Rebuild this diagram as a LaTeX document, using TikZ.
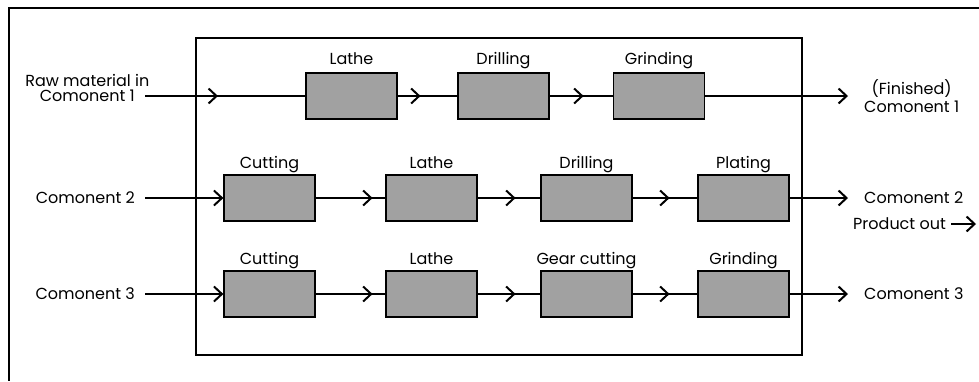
\documentclass[tikz,border=0pt]{standalone}
\usepackage{fontspec}
\setmainfont{Poppins}
\usepackage{xcolor}
\usetikzlibrary{arrows.meta}
\usetikzlibrary{decorations.markings}
\usetikzlibrary{positioning}
\definecolor{stonegray}{rgb}{0.63,0.63,0.63}
\tikzset{
  chev/.tip={Straight Barb[length=8pt,width=15pt,line width=2pt]},
  frame/.style={line width=1.8pt, black},
  machine/.style={draw=black, line width=1.2pt, fill=stonegray,
    minimum width=91pt, minimum height=46pt, inner sep=0pt},
  optitle/.style={anchor=base, font=\fontsize{16}{18}\selectfont},
  inlbl/.style={anchor=east, inner xsep=10pt, inner ysep=2pt,
    font=\fontsize{16}{18}\selectfont},
  outlbl/.style={anchor=west, inner xsep=16pt, inner ysep=2pt, align=center,
    font=\fontsize{16}{18}\selectfont},
  flow/.style={line width=1.6pt},
  flowmark/.style={decoration={markings, mark=at position #1 with {\arrow{chev}}},
    postaction={decorate}},
}

\begin{document}
\begin{tikzpicture}[x=1pt,y=-1pt]
\useasboundingbox (0,0) rectangle (979,381);

%%%%%%%%%%%%%%%%%%%%%%%%%%%%%%%%%%%%%%%%%%%%%%%%%%%%%%%%%%%%%% Frames
\draw[frame] (979,8) -- (9,8) -- (9,381);
\draw[frame] (196,38) rectangle (802,355);

%%%%%%%%%%%%%%%%%%%%%%%%%%%%%%%%%%%%%%%%%%%%%%%%%%%%%%%%%%%%%% Row 1
\node[inlbl] (in1) at (145,96) {Comonent 1};
\node[inlbl, anchor=south, inner ysep=1pt] (in1top) at (in1.north) {Raw material in};

\node[machine] (lathe1) at (351.5,96) {};
\node[machine] (drill1) at (503.5,96) {};
\node[machine] (grind1) at (659,96) {};
\node[optitle] at ([yshift=8pt]lathe1.north) {Lathe};
\node[optitle] at ([yshift=8pt]drill1.north) {Drilling};
\node[optitle] at ([yshift=8pt]grind1.north) {Grinding};

\node[outlbl] (out1) at (848,96) {(Finished)\\Comonent 1};

\draw[flow, flowmark=73pt] (in1) -- (lathe1);
\draw[flow, flowmark=23pt] (lathe1) -- (drill1);
\draw[flow, flowmark=34pt] (drill1) -- (grind1);
\draw[flow, -chev] (grind1) -- (out1);

%%%%%%%%%%%%%%%%%%%%%%%%%%%%%%%%%%%%%%%%%%%%%%%%%%%%%%%%%%%%%% Row 2
\node[inlbl] (in2) at (145,198) {Comonent 2};

\node[machine] (cut2) at (269.5,198) {};
\node[machine] (lathe2) at (431.5,198) {};
\node[machine] (drill2) at (586.5,198) {};
\node[machine] (plate2) at (743.5,198) {};
\node[optitle] at ([yshift=6pt]cut2.north) {Cutting};
\node[optitle] at ([yshift=6pt]lathe2.north) {Lathe};
\node[optitle] at ([yshift=6pt]drill2.north) {Drilling};
\node[optitle] at ([yshift=6pt]plate2.north) {Plating};

\node[outlbl] (out2) at (848,198) {Comonent 2};

\draw[flow, -chev] (in2) -- (cut2);
\draw[flow, flowmark=57pt] (cut2) -- (lathe2);
\draw[flow, flowmark=38pt] (lathe2) -- (drill2);
\draw[flow, flowmark=37pt] (drill2) -- (plate2);
\draw[flow, -chev] (plate2) -- (out2);

% product leaving the plant
\node[outlbl, inner xsep=5pt] (prod) at (848,224) {Product out};
\coordinate (prodtip) at (976,224);
\draw[flow, -chev] (prod) -- (prodtip);

%%%%%%%%%%%%%%%%%%%%%%%%%%%%%%%%%%%%%%%%%%%%%%%%%%%%%%%%%%%%%% Row 3
\node[inlbl] (in3) at (145,294) {Comonent 3};

\node[machine] (cut3) at (269.5,294) {};
\node[machine] (lathe3) at (431.5,294) {};
\node[machine] (gear3) at (586.5,294) {};
\node[machine] (grind3) at (743.5,294) {};
\node[optitle] at ([yshift=6pt]cut3.north) {Cutting};
\node[optitle] at ([yshift=6pt]lathe3.north) {Lathe};
\node[optitle] at ([yshift=6pt]gear3.north) {Gear cutting};
\node[optitle] at ([yshift=6pt]grind3.north) {Grinding};

\node[outlbl] (out3) at (848,294) {Comonent 3};

\draw[flow, -chev] (in3) -- (cut3);
\draw[flow, flowmark=57pt] (cut3) -- (lathe3);
\draw[flow, flowmark=38pt] (lathe3) -- (gear3);
\draw[flow, flowmark=37pt] (gear3) -- (grind3);
\draw[flow, -chev] (grind3) -- (out3);

\end{tikzpicture}
\end{document}
